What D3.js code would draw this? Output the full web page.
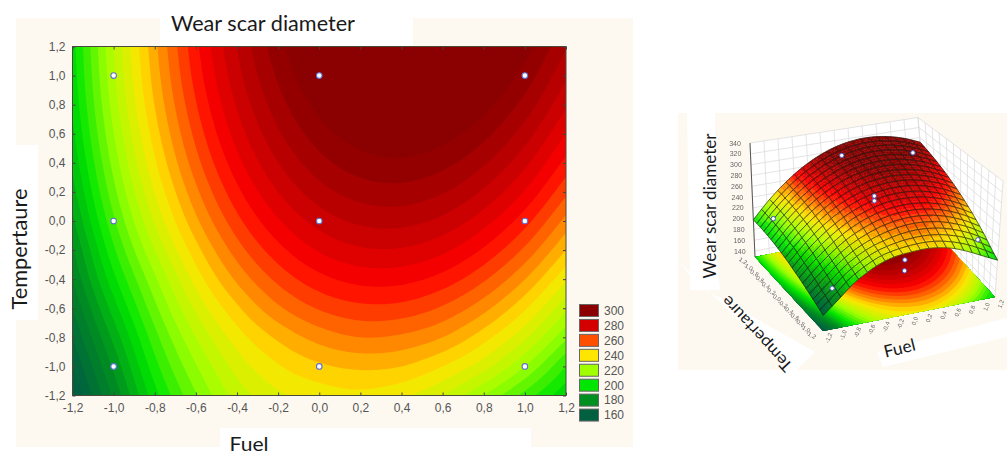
<!DOCTYPE html>
<html><head><meta charset="utf-8">
<script src="https://cdn.jsdelivr.net/npm/d3@7"></script>
<style>html,body{margin:0;padding:0;background:#fff}svg{display:block}text{font-family:"Liberation Sans",Arial,sans-serif}</style>
</head><body><div id="c"></div>
<script>
// Wear scar diameter; rows are Temperature -1.2..1.2, columns Fuel -1.2..1.2
const fuelAxis=[-1.2,-1,-.8,-.6,-.4,-.2,0,.2,.4,.6,.8,1,1.2];
const tempAxis=[-1.2,-1,-.8,-.6,-.4,-.2,0,.2,.4,.6,.8,1,1.2];
const surface=[
[155,176,198,214.5,227,234,237,238.5,236,230,220,208,196],
[160,181,203,219.5,232,239.5,244,246,245,240,232,220,205],
[165,186.5,208,225,237.5,246,252,255,254,250,242,231,216],
[170,192.5,213.5,231,244,254,260.5,263.6,263.2,259.2,251.7,240.7,226.2],
[175,198.5,219,237,251,261.4,268.3,271.7,271.6,268,260.8,250.1,235.9],
[179.2,204,225,243,257.5,268.2,275.5,279.2,279.4,276.1,269.2,258.9,245],
[183.8,209,230.6,248.8,263.4,274.4,282,286,286.6,283.6,277,267,253.4],
[187.8,213.3,235.2,253.7,268.6,280,287.9,292.2,293.1,290.4,284.2,274.5,261.2],
[191.1,216.9,239.2,258,273.2,284.9,293.1,297.8,299,296.6,290.7,281.3,268.4],
[193.8,219.9,242.5,261.6,277.2,289.2,297.7,302.7,304.2,302.2,296.6,287.5,274.9],
[195.8,222.3,245.2,264.6,280.5,292.8,301.7,307,308.8,307.1,301.8,293.1,280.8],
[197.2,224,247.2,267,283.2,295.8,305,310.6,312.8,311.4,306.4,298,286],
[198,225.1,248.6,268.7,285.2,298.2,307.7,313.6,316.1,315,310.4,302.3,290.6]];
const designFuel=[-1,0,1,-1,0,1,-1,0,1];
const designTemp=[-1,-1,-1,0,0,0,1,1,1];
const measFuel=[-1,0,0,1,-1,0,0,0,1];
const measTemp=[-1,-1,-1,-1,1,0,0,1,1];
const measWear=[186,213,194,227,206,277,268,302,285];
const legendValues=[300,280,260,240,220,200,180,160];
const legendColors=["#8b0000","#d40000","#ff5000","#ffe600","#a0ff00","#00e600","#009020","#00603f"];
const ticks2d=[-1.2,-1,-.8,-.6,-.4,-.2,0,.2,.4,.6,.8,1,1.2];
const wearTicks=[140,160,180,200,220,240,260,280,300,320,340];
const bandStep=5;

const W=1007,H=455;
const svg=d3.select("#c").append("svg").attr("width",W).attr("height",H);
const fmt=v=>d3.format(".1f")(v).replace(".",",").replace("\u2212","-");

// colour
const color=d3.scaleLinear()
 .domain([160,180,200,220,240,260,270,280,300])
 .range(["#00603f","#009020","#00e600","#a0ff00","#ffe600","#ff5000","#ff0000","#d40000","#8b0000"]).clamp(true);
const thresholds=d3.range(140,301,bandStep);

// drawing resolution for the read grid
const UP=10,n0=fuelAxis.length,N=(n0-1)*UP+1;
function cr(a,b,c,d,t){return .5*((2*b)+(-a+c)*t+(2*a-5*b+4*c-d)*t*t+(-a+3*b-3*c+d)*t*t*t);}
function g(i,j){
 const ci=Math.max(0,Math.min(n0-1,i)),cj=Math.max(0,Math.min(n0-1,j));
 let v=surface[cj][ci];
 if(i<0)v+=surface[cj][0]-surface[cj][1];
 if(i>n0-1)v+=surface[cj][n0-1]-surface[cj][n0-2];
 if(j<0)v+=surface[0][ci]-surface[1][ci];
 if(j>n0-1)v+=surface[n0-1][ci]-surface[n0-2][ci];
 return v;
}
function sample(fi,fj){
 const i=Math.min(n0-2,Math.floor(fi)),j=Math.min(n0-2,Math.floor(fj)),t=fi-i,u=fj-j;
 const r=[];
 for(let k=-1;k<=2;k++)r.push(cr(g(i-1,j+k),g(i,j+k),g(i+1,j+k),g(i+2,j+k),t));
 return cr(r[0],r[1],r[2],r[3],u);
}
const field=new Float64Array(N*N);
for(let j=0;j<N;j++)for(let i=0;i<N;i++)field[j*N+i]=sample(i/UP,j/UP);
const bands=d3.contours().size([N,N]).thresholds(thresholds)(Array.from(field));
const unit=v=>Math.max(0,Math.min(1,(v-.5)/(N-1)));

// backgrounds
const bg="#fdf9f1";
svg.append("rect").attr("x",16).attr("y",18).attr("width",617).attr("height",429).attr("fill",bg);
svg.append("rect").attr("x",678).attr("y",113).attr("width",329).attr("height",257).attr("fill",bg);
[[160,0,253,46],[0,145,38,175],[220,428,311,27]].forEach(r=>svg.append("rect").attr("x",r[0]).attr("y",r[1]).attr("width",r[2]).attr("height",r[3]).attr("fill","#fff"));

// ---- 2D contour map
const x=d3.scaleLinear().domain([-1.2,1.2]).range([72.5,566]);
const y=d3.scaleLinear().domain([-1.2,1.2]).range([395.5,46.5]);
const path2d=d3.geoPath(d3.geoTransform({point(a,b){this.stream.point(x(-1.2+2.4*unit(a)),y(-1.2+2.4*unit(b)));}}));
const map=svg.append("g");
map.append("rect").attr("x",x(-1.2)).attr("y",y(1.2)).attr("width",x(1.2)-x(-1.2)).attr("height",y(-1.2)-y(1.2)).attr("fill",color(150));
map.selectAll("path").data(bands).join("path").attr("d",path2d).attr("fill",d=>color(d.value+bandStep/2));
map.append("rect").attr("x",x(-1.2)).attr("y",y(1.2)).attr("width",x(1.2)-x(-1.2)).attr("height",y(-1.2)-y(1.2)).attr("fill","none").attr("stroke","#4a4a3a").attr("stroke-width",1);

function styleAxis(s){
 s.select(".domain").remove();
 s.selectAll("line").attr("stroke","#444");
 s.selectAll("text").attr("fill","#555").attr("font-size",12).style("font-family",'"Liberation Sans",Arial,sans-serif');
}
svg.append("g").attr("transform",`translate(0,${y(-1.2)})`).call(d3.axisBottom(x).tickValues(ticks2d).tickFormat(fmt).tickSizeInner(-3).tickPadding(8)).call(styleAxis);
svg.append("g").attr("transform",`translate(${x(-1.2)},0)`).call(d3.axisLeft(y).tickValues(ticks2d).tickFormat(fmt).tickSizeInner(-3).tickPadding(7)).call(styleAxis);
svg.append("g").attr("transform",`translate(0,${y(1.2)})`).call(d3.axisTop(x).tickValues(ticks2d).tickFormat("").tickSizeInner(-3).tickPadding(0)).call(styleAxis);
svg.append("g").attr("transform",`translate(${x(1.2)},0)`).call(d3.axisRight(y).tickValues(ticks2d).tickFormat("").tickSizeInner(-3).tickPadding(0)).call(styleAxis);

svg.append("g").selectAll("circle").data(designFuel).join("circle")
 .attr("cx",d=>x(d)).attr("cy",(d,i)=>y(designTemp[i])).attr("r",2.8)
 .attr("fill","#fff").attr("stroke","#5f70d0").attr("stroke-width",1.1);

// legend
const lg=svg.append("g");
const legY=d3.scaleBand().domain(legendValues).range([304.5,424]);
legendValues.forEach((v,i)=>{
 lg.append("rect").attr("x",579.5).attr("y",legY(v)).attr("width",19).attr("height",12)
  .attr("fill",legendColors[i]).attr("stroke","#666").attr("stroke-width",1);
 lg.append("text").attr("x",604).attr("y",legY(v)+6).attr("dy","0.36em").attr("fill","#555").attr("font-size",12).text(v);
});

// ---- 3D surface
const P={f:[823,331],r:[995,297],l:[755,257],b:[927,223]};
const S={f:.6,r:.55,l:.54,b:.5}, SH={f:2,r:8,l:-5,b:-9};
const zFloor=129,zTop=340;
function bil(q,u,v,k){const a=k==null?q.f:q.f[k],b=k==null?q.r:q.r[k],c=k==null?q.l:q.l[k],d=k==null?q.b:q.b[k];
 return a*(1-u)*(1-v)+b*u*(1-v)+c*(1-u)*v+d*u*v;}
function proj(fx,ty,z){
 const u=(fx+1.2)/2.4,v=(ty+1.2)/2.4,dz=z-zFloor;
 return [bil(P,u,v,0)+bil(SH,u,v)*dz/(zTop-zFloor), bil(P,u,v,1)-bil(S,u,v)*dz];
}
const defs=svg.append("defs");
defs.append("filter").attr("id","soft").append("feGaussianBlur").attr("stdDeviation",.35);
const g3=svg.append("g").attr("filter","url(#soft)");
const poly=a=>"M"+a.map(p=>p.join(",")).join("L")+"Z";
g3.append("path").attr("d",poly([proj(-1.2,1.2,zFloor),proj(1.2,1.2,zFloor),proj(1.2,1.2,zTop),proj(-1.2,1.2,zTop)])).attr("fill","#fff");
g3.append("path").attr("d",poly([proj(1.2,-1.2,zFloor),proj(1.2,1.2,zFloor),proj(1.2,1.2,zTop),proj(1.2,-1.2,zTop)])).attr("fill","#fff");
const wall=g3.append("g").attr("stroke","#d8d8d8").attr("stroke-width",.7).attr("fill","none");
const seg=(a,b)=>wall.append("line").attr("x1",a[0]).attr("y1",a[1]).attr("x2",b[0]).attr("y2",b[1]);
ticks2d.forEach(t=>{seg(proj(t,1.2,zFloor),proj(t,1.2,zTop));seg(proj(1.2,t,zFloor),proj(1.2,t,zTop));});
wearTicks.forEach(z=>{seg(proj(-1.2,1.2,z),proj(1.2,1.2,z));seg(proj(1.2,1.2,z),proj(1.2,-1.2,z));});
const floorPath=d3.geoPath(d3.geoTransform({point(a,b){const p=proj(-1.2+2.4*unit(a),-1.2+2.4*unit(b),zFloor);this.stream.point(p[0],p[1]);}}));
g3.append("path").attr("d",poly([proj(-1.2,-1.2,zFloor),proj(1.2,-1.2,zFloor),proj(1.2,1.2,zFloor),proj(-1.2,1.2,zFloor)])).attr("fill",color(150));
g3.append("g").selectAll("path").data(bands).join("path").attr("d",floorPath).attr("fill",d=>color(d.value+bandStep/2));
const zl=proj(-1.2,1.2,zFloor),zt=proj(-1.2,1.2,zTop);
g3.append("line").attr("x1",zl[0]).attr("y1",zl[1]).attr("x2",zt[0]).attr("y2",zt[1]).attr("stroke","#555").attr("stroke-width",1);
const M=6,SUB=2,cells=[];
for(let j=0;j<N-1;j+=M)for(let i=0;i<N-1;i+=M)cells.push([i,j]);
cells.sort((a,b)=>(b[0]+b[1])-(a[0]+a[1]));
const fxOf=i=>-1.2+2.4*i/(N-1);
const pt=(i,j)=>proj(fxOf(i),fxOf(j),field[j*N+i]);
const mesh=g3.append("g");
cells.forEach(c=>{
 const [i0,j0]=c;
 for(let j=j0+M-SUB;j>=j0;j-=SUB)for(let i=i0+M-SUB;i>=i0;i-=SUB){
  const v=field[(j+1)*N+i+1];
  const col=color(Math.floor(v/bandStep)*bandStep+bandStep/2);
  mesh.append("path").attr("d",poly([pt(i,j),pt(i+SUB,j),pt(i+SUB,j+SUB),pt(i,j+SUB)])).attr("fill",col).attr("stroke",col).attr("stroke-width",.4);
 }
 const o=[];
 for(let t=0;t<=M;t+=SUB)o.push(pt(i0+t,j0));
 for(let t=SUB;t<=M;t+=SUB)o.push(pt(i0+M,j0+t));
 for(let t=SUB;t<=M;t+=SUB)o.push(pt(i0+M-t,j0+M));
 for(let t=SUB;t<M;t+=SUB)o.push(pt(i0,j0+M-t));
 mesh.append("path").attr("d",poly(o)).attr("fill","none").attr("stroke","#1c1c14").attr("stroke-width",.9).attr("stroke-opacity",.7);
});
g3.append("g").selectAll("circle").data(measFuel).join("circle")
 .attr("cx",(d,i)=>proj(d,measTemp[i],measWear[i])[0]).attr("cy",(d,i)=>proj(d,measTemp[i],measWear[i])[1]).attr("r",2.2)
 .attr("fill","#fff").attr("stroke","#4a55c0").attr("stroke-width",1);
const tl=g3.append("g").attr("fill","#666").attr("font-size",6).attr("text-anchor","middle");
wearTicks.forEach(z=>{const p=proj(-1.2,1.2,z);tl.append("text").attr("x",p[0]-15).attr("y",p[1]+2.5).attr("font-size",7).text(z);});
ticks2d.forEach(t=>{
 const p=proj(-1.2,t,zFloor),q=proj(t,-1.2,zFloor);
 tl.append("text").attr("transform",`translate(${p[0]-12},${p[1]+4}) rotate(30)`).attr("dy","0.3em").text(fmt(t));
 tl.append("text").attr("transform",`translate(${q[0]+6},${q[1]+7}) rotate(-70)`).attr("dy","0.3em").text(fmt(t));
});

const patch=pts=>svg.insert("path",()=>g3.node()).attr("d",poly(pts)).attr("fill","#fff");
patch([[687,113],[715,113],[715,240],[720,290],[690,290]]);
patch([[697,285],[815,352],[792,374],[680,262]]);
patch([[877,352],[1007,318],[1007,337],[883,367]]);
const label=(t,px,py,rot,size,len)=>svg.append("text").attr("transform",`translate(${px},${py}) rotate(${rot})`)
 .attr("text-anchor","middle").attr("fill","#1a1a1a").style("font-family","Lato,sans-serif").attr("font-size",size)
 .attr("textLength",len).attr("lengthAdjust","spacingAndGlyphs").text(t);
label("Wear scar diameter",263,31,0,21,184);
label("Tempertaure",27,249,-90,21,121);
label("Fuel",249,451,0,20,39);
label("Wear scar diameter",716,206,-90,17,145);
label("Tempertaure",761,330,227.5,16,96);
label("Fuel",901,354,-14,17,32);
</script></body></html>
